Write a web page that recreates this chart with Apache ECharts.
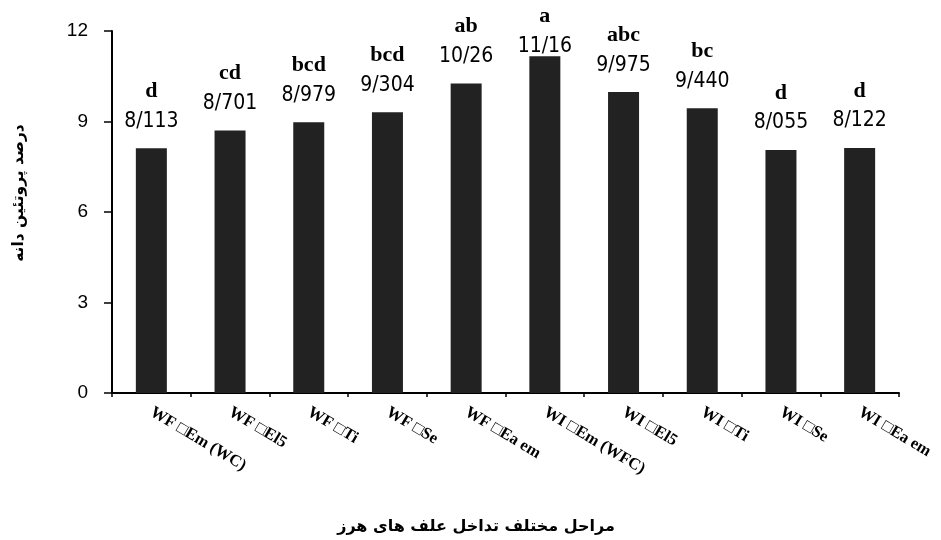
<!DOCTYPE html>
<html>
<head>
<meta charset="utf-8">
<script src="https://cdn.jsdelivr.net/npm/echarts@6/dist/echarts.min.js"></script>
<style>
html,body{margin:0;padding:0;background:#fff;}
#c{width:941px;height:540px;}
</style>
</head>
<body>
<div id="c"></div>
<script>
var categories = ['WF \u25A1Em (WC)', 'WF \u25A1El5', 'WF \u25A1Ti', 'WF \u25A1Se', 'WF \u25A1Ea em',
                  'WI \u25A1Em (WFC)', 'WI \u25A1El5', 'WI \u25A1Ti', 'WI \u25A1Se', 'WI \u25A1Ea em'];
var values = [8.113, 8.701, 8.979, 9.304, 10.26, 11.16, 9.975, 9.44, 8.055, 8.122];
var valueLabels = ['8/113', '8/701', '8/979', '9/304', '10/26', '11/16', '9/975', '9/440', '8/055', '8/122'];
var letters = ['d', 'cd', 'bcd', 'bcd', 'ab', 'a', 'abc', 'bc', 'd', 'd'];
var yTicks = [0, 3, 6, 9, 12];
var yTitle = 'درصد پروتئین دانه';
var xTitle = 'مراحل مختلف تداخل علف های هرز';

var chart = echarts.init(document.getElementById('c'));
var seriesData = values.map(function (v, i) {
  var item = { value: v };
  if (i === 5) { item.label = { distance: -5 }; }
  return item;
});
chart.setOption({
  animation: false,
  backgroundColor: '#fff',
  grid: { left: 112, right: 42, top: 31, bottom: 147 },
  xAxis: {
    type: 'category',
    data: categories,
    axisLine: { lineStyle: { color: '#000', width: 2 } },
    axisTick: { show: true, alignWithLabel: false, length: 4, lineStyle: { color: '#000', width: 1.5 } },
    axisLabel: {
      rotate: -31, margin: 18, interval: 0,
      fontFamily: 'Liberation Serif', fontWeight: 'bold', fontSize: 16.5, color: '#000'
    }
  },
  yAxis: {
    type: 'value',
    min: yTicks[0], max: yTicks[yTicks.length - 1], interval: 3,
    splitLine: { show: false },
    axisLine: { show: true, lineStyle: { color: '#000', width: 2 } },
    axisTick: { show: true, length: 8, lineStyle: { color: '#000', width: 1.5 } },
    axisLabel: { margin: 24, fontFamily: 'Liberation Sans', fontSize: 19, color: '#000' }
  },
  graphic: [
    {
      type: 'text', x: 19, y: 193, rotation: Math.PI / 2,
      style: { text: yTitle, font: 'bold 15.5px "DejaVu Sans"', fill: '#000', align: 'center', verticalAlign: 'middle' }
    },
    {
      type: 'text', x: 476, y: 527,
      style: { text: xTitle, font: 'bold 16px "DejaVu Sans"', fill: '#000', align: 'center', verticalAlign: 'middle' }
    }
  ],
  series: [{
    type: 'bar',
    data: seriesData,
    barWidth: 31,
    itemStyle: { color: '#222222' },
    label: {
      show: true,
      position: 'top',
      distance: 12,
      formatter: function (p) {
        return '{l|' + letters[p.dataIndex] + '}\n{n|' + valueLabels[p.dataIndex] + '}';
      },
      rich: {
        l: { fontFamily: 'Liberation Serif', fontWeight: 'bold', fontSize: 22, lineHeight: 30, color: '#000' },
        n: { fontFamily: '"DejaVu Sans Condensed", "Liberation Sans Narrow", sans-serif', fontSize: 21, lineHeight: 30, color: '#000' }
      }
    }
  }]
});
</script>
</body>
</html>
